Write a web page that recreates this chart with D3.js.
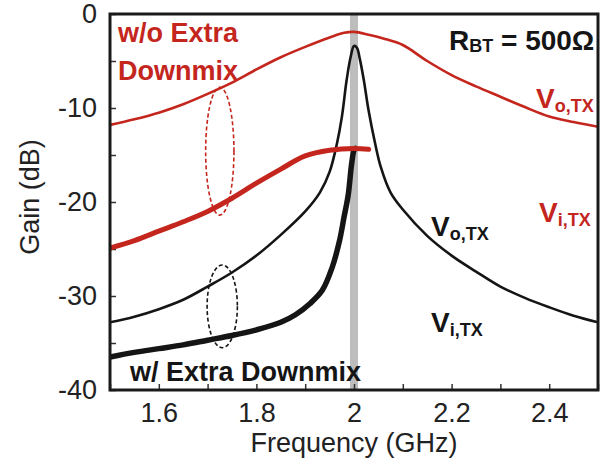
<!DOCTYPE html>
<html>
<head>
<meta charset="utf-8">
<script src="https://cdn.jsdelivr.net/npm/d3@7"></script>
<style>
  html, body { margin: 0; padding: 0; background: #fff; }
  svg { display: block; }
  text { font-family: "Liberation Sans", Arial, sans-serif; }
</style>
</head>
<body>
<svg id="chart" width="601" height="471"></svg>
<script>
// Gain vs frequency, R_BT = 500 ohm
const xTickValues = [1.5, 1.6, 1.7, 1.8, 1.9, 2.0, 2.1, 2.2, 2.3, 2.4, 2.5];
const xTickLabels = ["", "1.6", "", "1.8", "", "2", "", "2.2", "", "2.4", ""];
const yTickValues = [0, -5, -10, -15, -20, -25, -30, -35, -40];
const yTickLabels = ["0", "", "-10", "", "-20", "", "-30", "", "-40"];

// without extra downmix: output node (thin red)
const woVoFreq = [1.50, 1.55, 1.60, 1.65, 1.70, 1.75, 1.80, 1.85, 1.90, 1.95, 1.98, 2.00, 2.03, 2.06, 2.10, 2.15, 2.20, 2.25, 2.30, 2.35, 2.40, 2.45, 2.50];
const woVoGain = [-11.8, -11.2, -10.5, -9.6, -8.5, -7.3, -5.9, -4.6, -3.5, -2.5, -2.0, -1.9, -2.2, -2.6, -3.3, -5.0, -6.5, -7.7, -8.8, -9.9, -10.9, -11.5, -12.0];

// without extra downmix: input node (thick red)
const woViFreq = [1.50, 1.55, 1.60, 1.65, 1.70, 1.75, 1.80, 1.85, 1.90, 1.95, 2.00, 2.03];
const woViGain = [-24.9, -24.1, -23.1, -22.1, -21.0, -19.6, -18.0, -16.5, -15.1, -14.5, -14.3, -14.4];

// with extra downmix: output node (thin black)
const wVoFreq = [1.50, 1.55, 1.60, 1.65, 1.70, 1.75, 1.80, 1.85, 1.90, 1.93, 1.95, 1.965, 1.975, 1.985, 1.993, 2.000, 2.006, 2.012, 2.020, 2.030, 2.043, 2.055, 2.075, 2.10, 2.15, 2.20, 2.25, 2.30, 2.35, 2.40, 2.45, 2.50];
const wVoGain = [-32.8, -32.2, -31.4, -30.4, -29.0, -27.5, -25.7, -23.5, -21.0, -19.0, -16.8, -13.8, -11.0, -7.0, -4.6, -3.4, -3.6, -4.8, -7.0, -10.3, -13.7, -16.3, -19.0, -20.8, -23.6, -25.7, -27.4, -29.0, -30.2, -31.2, -32.1, -32.8];

// with extra downmix: input node (thick black)
const wViFreq = [1.50, 1.55, 1.60, 1.65, 1.70, 1.75, 1.80, 1.85, 1.88, 1.91, 1.935, 1.955, 1.97, 1.98, 1.988, 1.995, 2.000, 2.003];
const wViGain = [-36.5, -36.0, -35.6, -35.2, -34.7, -34.2, -33.6, -32.8, -32.0, -30.8, -29.4, -27.0, -24.2, -21.5, -19.3, -16.0, -14.5, -14.3];

const RED = "#c4261d";
const BLACK = "#151515";

const svg = d3.select("#chart");
const margin = { left: 110, top: 14, right: 3, bottom: 81 };
const W = 601 - margin.left - margin.right;
const H = 471 - margin.top - margin.bottom;

const x = d3.scaleLinear().domain([1.5, 2.5]).range([0, W]);
const y = d3.scaleLinear().domain([-40, 0]).range([H, 0]);

const g = svg.append("g").attr("transform", `translate(${margin.left},${margin.top})`);

g.append("clipPath").attr("id", "plotClip")
  .append("rect").attr("x", 0).attr("y", 0).attr("width", W).attr("height", H);

// marker band at the 2 GHz carrier
g.append("rect")
  .attr("x", x(2.0) - 4).attr("y", 0)
  .attr("width", 8).attr("height", H)
  .attr("fill", "#bdbdbd");

// axes
const xAxis = d3.axisBottom(x)
  .tickValues(xTickValues)
  .tickSize(-6)
  .tickPadding(13)
  .tickFormat((d, i) => xTickLabels[i]);
const yAxis = d3.axisLeft(y)
  .tickValues(yTickValues)
  .tickSize(-6)
  .tickPadding(13)
  .tickFormat((d, i) => yTickLabels[i]);

const gx = g.append("g").attr("transform", `translate(0,${H})`).call(xAxis);
const gy = g.append("g").call(yAxis);
[gx, gy].forEach(a => {
  a.select(".domain").remove();
  a.selectAll(".tick line").attr("stroke", "#333").attr("stroke-width", 1.5);
  a.selectAll(".tick text")
    .attr("fill", "#222")
    .style("font-size", "27px")
    .style("font-family", "'Liberation Sans', Arial, sans-serif");
});

// curves
const line = d3.line()
  .x(d => x(d[0]))
  .y(d => y(d[1]))
  .curve(d3.curveCatmullRom.alpha(0.5));

const zip = (a, b) => a.map((v, i) => [v, b[i]]);
const curves = [
  { data: zip(woVoFreq, woVoGain), color: RED, width: 2.6 },
  { data: zip(wVoFreq, wVoGain), color: BLACK, width: 2.6 },
  { data: zip(wViFreq, wViGain), color: BLACK, width: 5.5 },
  { data: zip(woViFreq, woViGain), color: RED, width: 5 }
];

const curveLayer = g.append("g").attr("clip-path", "url(#plotClip)");
curveLayer.selectAll("path.curve")
  .data(curves)
  .join("path")
  .attr("class", "curve")
  .attr("d", d => line(d.data))
  .attr("fill", "none")
  .attr("stroke", d => d.color)
  .attr("stroke-width", d => d.width)
  .attr("stroke-linejoin", "round")
  .attr("stroke-linecap", "round");

// dashed ellipses grouping each pair of traces
const ellipses = [
  { f: 1.725, gTop: -7.8, gBot: -21.4, rf: 0.029, color: RED },
  { f: 1.73, gTop: -26.7, gBot: -35.5, rf: 0.031, color: BLACK }
];
g.selectAll("ellipse.group")
  .data(ellipses)
  .join("ellipse")
  .attr("class", "group")
  .attr("cx", d => x(d.f))
  .attr("cy", d => (y(d.gTop) + y(d.gBot)) / 2)
  .attr("rx", d => x(1.5 + d.rf) - x(1.5))
  .attr("ry", d => (y(d.gBot) - y(d.gTop)) / 2)
  .attr("fill", "none")
  .attr("stroke", d => d.color)
  .attr("stroke-width", 1.6)
  .attr("stroke-dasharray", "4,2.5");

// frame
g.append("rect")
  .attr("x", 0).attr("y", 0).attr("width", W).attr("height", H)
  .attr("fill", "none").attr("stroke", "#1a1a1a").attr("stroke-width", 3);

// axis titles
svg.append("text")
  .attr("x", margin.left + W / 2).attr("y", 452)
  .attr("text-anchor", "middle")
  .attr("fill", "#222")
  .style("font-size", "27px")
  .text("Frequency (GHz)");

svg.append("text")
  .attr("transform", "translate(39,197) rotate(-90)")
  .attr("text-anchor", "middle")
  .attr("fill", "#222")
  .style("font-size", "27px")
  .text("Gain (dB)");

// annotations
const bold = (sel) => sel.style("font-weight", "bold");

bold(svg.append("text").attr("x", 118).attr("y", 42).attr("fill", RED).style("font-size", "27px")).text("w/o Extra");
bold(svg.append("text").attr("x", 118).attr("y", 80).attr("fill", RED).style("font-size", "27px")).text("Downmix");
bold(svg.append("text").attr("x", 130).attr("y", 381).attr("fill", BLACK).style("font-size", "27px")).text("w/ Extra Downmix");

const rbt = bold(svg.append("text").attr("x", 449).attr("y", 50).attr("fill", BLACK).style("font-size", "28px"));
rbt.append("tspan").text("R");
rbt.append("tspan").style("font-size", "18px").attr("dy", 2).text("BT");
rbt.append("tspan").attr("dy", -2).text(" = 500Ω");

function vLabel(px, py, sub, color) {
  const t = bold(svg.append("text").attr("x", px).attr("y", py).attr("fill", color).style("font-size", "28px"));
  t.append("tspan").text("V");
  t.append("tspan").style("font-size", "18px").attr("dy", 4).text(sub);
  return t;
}
vLabel(536, 108, "o,TX", RED);
vLabel(539, 222, "i,TX", RED);
vLabel(431, 236, "o,TX", BLACK);
vLabel(431, 332, "i,TX", BLACK);
</script>
</body>
</html>
